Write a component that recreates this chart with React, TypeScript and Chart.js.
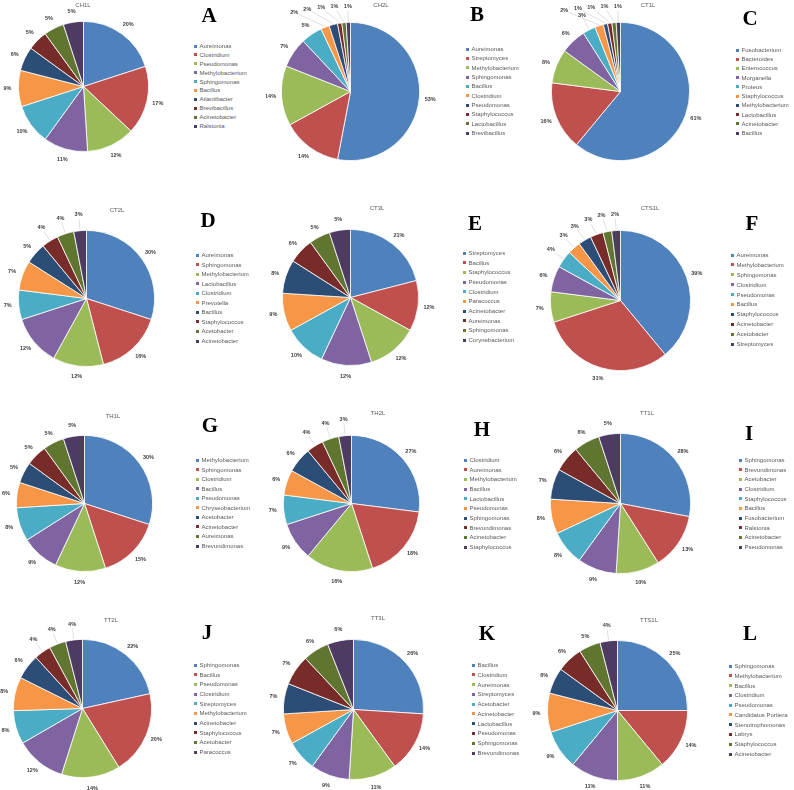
import React, { useEffect, useRef } from 'react';
import { Chart, registerables } from 'chart.js';

Chart.register(...registerables);

// Excel 2010 default series colours, one per genus rank
const palette = ['#4F81BD', '#C0504D', '#9BBB59', '#8064A2', '#4BACC6', '#F79646', '#2C4D75', '#772C2A', '#5F7530', '#4D3B62'];

// ---- data (relative abundance, %) ----
const ch1lGenera = ['Aureimonas', 'Clostridium', 'Pseudomonas', 'Methylobacterium', 'Sphingomonas', 'Bacillus', 'Atlantibacter', 'Brevibacillus', 'Acinetobacter', 'Ralstonia'];
const ch1lShares = [20, 17, 12, 11, 10, 9, 6, 5, 5, 5];

const ch2lGenera = ['Aureimonas', 'Streptomyces', 'Methylobacterium', 'Sphingomonas', 'Bacillus', 'Clostridium', 'Pseudomonas', 'Staphylococcus', 'Lactobacillus', 'Brevibacillus'];
const ch2lShares = [53, 14, 14, 7, 5, 2, 2, 1, 1, 1];

const ct1lGenera = ['Fusobacterium', 'Bacteroides', 'Enterococcus', 'Morganella', 'Proteus', 'Staphylococcus', 'Methylobacterium', 'Lactobacillus', 'Acinetobacter', 'Bacillus'];
const ct1lShares = [61, 16, 8, 6, 3, 2, 1, 1, 1, 1];

const ct2lGenera = ['Aureimonas', 'Sphingomonas', 'Methylobacterium', 'Lactobacillus', 'Clostridium', 'Prevotella', 'Bacillus', 'Staphylococcus', 'Acetobacter', 'Acinetobacter'];
const ct2lShares = [30, 16, 12, 12, 7, 7, 5, 4, 4, 3];

const ct3lGenera = ['Streptomyces', 'Bacillus', 'Staphylococcus', 'Pseudomonas', 'Clostridium', 'Paracoccus', 'Acinetobacter', 'Aureimonas', 'Sphingomonas', 'Corynebacterium'];
const ct3lShares = [21, 12, 12, 12, 10, 9, 8, 6, 5, 5];

const cts1lGenera = ['Aureimonas', 'Methylobacterium', 'Sphingomonas', 'Clostridium', 'Pseudomonas', 'Bacillus', 'Staphylococcus', 'Acinetobacter', 'Acetobacter', 'Streptomyces'];
const cts1lShares = [39, 31, 7, 6, 4, 3, 3, 3, 2, 2];

const th1lGenera = ['Methylobacterium', 'Sphingomonas', 'Clostridium', 'Bacillus', 'Pseudomonas', 'Chryseobacterium', 'Acetobacter', 'Acinetobacter', 'Aureimonas', 'Brevundimonas'];
const th1lShares = [30, 15, 12, 9, 8, 6, 5, 5, 5, 5];

const th2lGenera = ['Clostridium', 'Aureimonas', 'Methylobacterium', 'Bacillus', 'Lactobacillus', 'Pseudomonas', 'Sphingomonas', 'Brevundimonas', 'Acinetobacter', 'Staphylococcus'];
const th2lShares = [27, 18, 16, 9, 7, 6, 6, 4, 4, 3];

const tt1lGenera = ['Sphingomonas', 'Brevundimonas', 'Acetobacter', 'Clostridium', 'Staphylococcus', 'Bacillus', 'Fusobacterium', 'Ralstonia', 'Acinetobacter', 'Pseudomonas'];
const tt1lShares = [28, 13, 10, 9, 8, 8, 7, 6, 6, 5];

const tt2lGenera = ['Sphingomonas', 'Bacillus', 'Pseudomonas', 'Clostridium', 'Streptomyces', 'Methylobacterium', 'Acinetobacter', 'Staphylococcus', 'Acetobacter', 'Paracoccus'];
const tt2lShares = [22, 20, 14, 12, 8, 8, 6, 4, 4, 4];

const tt3lGenera = ['Bacillus', 'Clostridium', 'Aureimonas', 'Streptomyces', 'Acetobacter', 'Acinetobacter', 'Lactobacillus', 'Pseudomonas', 'Sphingomonas', 'Brevundimonas'];
const tt3lShares = [26, 14, 11, 9, 7, 7, 7, 7, 6, 6];

const tts1lGenera = ['Sphingomonas', 'Methylobacterium', 'Bacillus', 'Clostridium', 'Pseudomonas', 'Candidatus Portiera', 'Stenotrophomonas', 'Labrys', 'Staphylococcus', 'Acinetobacter'];
const tts1lShares = [25, 14, 11, 11, 9, 9, 6, 6, 5, 4];

// ---- layout of the 4 x 3 figure grid (page pixels) ----
const PAD = 34;
const panels = [
  { name: 'CH1L', letter: 'A', genera: ch1lGenera, shares: ch1lShares, cx: 83, cy: 86, r: 65, title: [83, 5], tag: [209, 15], legend: [195, 46, 126], clipX: 0 },
  { name: 'CH2L', letter: 'B', genera: ch2lGenera, shares: ch2lShares, cx: 350, cy: 91, r: 69, title: [381, 5], tag: [477, 14], legend: [467, 49, 133], clipX: 266 },
  { name: 'CT1L', letter: 'C', genera: ct1lGenera, shares: ct1lShares, cx: 620, cy: 91, r: 69, title: [648, 5], tag: [750, 18], legend: [737, 50, 133], clipX: 0 },
  { name: 'CT2L', letter: 'D', genera: ct2lGenera, shares: ct2lShares, cx: 86, cy: 298, r: 68, title: [117, 210], tag: [208, 220], legend: [197, 255, 341], clipX: 0 },
  { name: 'CT3L', letter: 'E', genera: ct3lGenera, shares: ct3lShares, cx: 350, cy: 297, r: 68, title: [377, 208], tag: [475, 223], legend: [464, 253, 340], clipX: 0 },
  { name: 'CTS1L', letter: 'F', genera: cts1lGenera, shares: cts1lShares, cx: 620, cy: 300, r: 70, title: [650, 208], tag: [752, 223], legend: [732, 255, 344], clipX: 0 },
  { name: 'TH1L', letter: 'G', genera: th1lGenera, shares: th1lShares, cx: 84, cy: 503, r: 68, title: [113, 416], tag: [210, 425], legend: [197, 460, 546], clipX: 0 },
  { name: 'TH2L', letter: 'H', genera: th2lGenera, shares: th2lShares, cx: 351, cy: 503, r: 68, title: [378, 413], tag: [482, 429], legend: [465, 460, 547], clipX: 0 },
  { name: 'TT1L', letter: 'I', genera: tt1lGenera, shares: tt1lShares, cx: 620, cy: 503, r: 70, title: [647, 413], tag: [749, 433], legend: [740, 460, 547], clipX: 0 },
  { name: 'TT2L', letter: 'J', genera: tt2lGenera, shares: tt2lShares, cx: 82, cy: 708, r: 69, title: [111, 620], tag: [207, 632], legend: [195, 665, 752], clipX: 0 },
  { name: 'TT3L', letter: 'K', genera: tt3lGenera, shares: tt3lShares, cx: 353, cy: 709, r: 70, title: [378, 618], tag: [487, 633], legend: [473, 665, 753], clipX: 0 },
  { name: 'TTS1L', letter: 'L', genera: tts1lGenera, shares: tts1lShares, cx: 617, cy: 710, r: 70, title: [649, 620], tag: [750, 633], legend: [730, 666, 754], clipX: 0 },
];

const sans = '"Liberation Sans", Arial, sans-serif';

// outside-end percentage labels; crowded ones slide sideways, with leader lines
const pctLabels = {
  id: 'pctLabels',
  afterDatasetsDraw(chart: any) {
    const ctx = chart.ctx;
    const arcs = chart.getDatasetMeta(0).data;
    const values = chart.data.datasets[0].data as number[];
    const placed: { x: number; y: number; w: number; h: number }[] = [];
    const hit = (a: any, b: any) => a.x < b.x + b.w && b.x < a.x + a.w && a.y < b.y + b.h && b.y < a.y + a.h;
    ctx.save();
    ctx.font = `bold 5.5px ${sans}`;
    ctx.textAlign = 'center';
    ctx.textBaseline = 'middle';
    for (let i = arcs.length - 1; i >= 0; i--) {
      const { x, y, startAngle, endAngle, outerRadius } = arcs[i].getProps(['x', 'y', 'startAngle', 'endAngle', 'outerRadius'], true);
      const txt = `${values[i]}%`;
      const w = ctx.measureText(txt).width;
      const mid = (startAngle + endAngle) / 2;
      const small = values[i] <= 4;
      const R = outerRadius + (small ? 16 : 11);
      let px = x + R * Math.cos(mid);
      const py = y + R * Math.sin(mid);
      const dir = Math.cos(mid) < 0.05 ? -1 : 1;
      let moved = false;
      for (let k = 0; k < 80; k++) {
        const box = { x: px - w / 2 - 2.5, y: py - 3.5, w: w + 5, h: 7 };
        if (!placed.some((b) => hit(b, box)) || k === 79) {
          placed.push(box);
          break;
        }
        px += dir;
        moved = true;
      }
      if (small || moved) {
        const sx = x + (outerRadius + 1) * Math.cos(mid);
        const sy = y + (outerRadius + 1) * Math.sin(mid);
        const d = Math.hypot(px - sx, py - sy);
        const ex = px - ((px - sx) / d) * 4.5;
        const ey = py - ((py - sy) / d) * 4.5;
        ctx.strokeStyle = '#BFBFBF';
        ctx.lineWidth = 0.5;
        ctx.beginPath();
        ctx.moveTo(sx, sy);
        ctx.lineTo(ex, ey);
        ctx.stroke();
      }
      ctx.fillStyle = '#404040';
      ctx.fillText(txt, px, py);
    }
    ctx.restore();
  },
};

type Panel = (typeof panels)[number];

const PiePanel: React.FC<{ p: Panel }> = ({ p }) => {
  const canvasRef = useRef<HTMLCanvasElement>(null);
  const size = 2 * (p.r + PAD) + 1;
  const left = p.cx - p.r - PAD - 0.5;

  useEffect(() => {
    const chart = new Chart(canvasRef.current as HTMLCanvasElement, {
      type: 'pie',
      data: {
        labels: p.genera,
        datasets: [{ data: p.shares, backgroundColor: palette, borderColor: '#ffffff', borderWidth: 0.8 }],
      },
      options: {
        responsive: false,
        animation: false,
        layout: { padding: PAD },
        plugins: { legend: { display: false }, tooltip: { enabled: false }, title: { display: false } },
      },
      plugins: [pctLabels],
    });
    return () => chart.destroy();
  }, [p]);

  const [lx, ly0, ly1] = p.legend;
  const step = (ly1 - ly0) / (p.genera.length - 1);
  const clip = p.clipX > left ? `inset(0 0 0 ${p.clipX - left}px)` : undefined;

  return (
    <>
      <canvas
        ref={canvasRef}
        width={size}
        height={size}
        style={{ position: 'absolute', left, top: p.cy - p.r - PAD - 0.5, width: size, height: size, clipPath: clip }}
      />
      <div style={{ position: 'absolute', left: p.title[0], top: p.title[1], transform: 'translate(-50%, -50%)', font: `6px ${sans}`, color: '#595959', whiteSpace: 'nowrap' }}>
        {p.name}
      </div>
      <div style={{ position: 'absolute', left: p.tag[0], top: p.tag[1], transform: 'translate(-50%, -50%)', font: 'bold 21px "Liberation Serif", "Times New Roman", serif', color: '#000', lineHeight: '21px' }}>
        {p.letter}
      </div>
      {p.genera.map((g, i) => (
        <div
          key={g + i}
          style={{ position: 'absolute', left: lx - 1.5, top: ly0 + i * step - 3, height: 6, display: 'flex', alignItems: 'center', whiteSpace: 'nowrap' }}
        >
          <span style={{ display: 'inline-block', width: 3, height: 3, background: palette[i], marginRight: 3 }} />
          <span style={{ font: `6px ${sans}`, lineHeight: '6px', color: '#595959' }}>{g}</span>
        </div>
      ))}
    </>
  );
};

export default function App() {
  return (
    <div style={{ position: 'absolute', left: 0, top: 0, width: 794, height: 790, overflow: 'hidden', background: '#fff' }}>
      {panels.map((p) => (
        <PiePanel key={p.name} p={p} />
      ))}
    </div>
  );
}
